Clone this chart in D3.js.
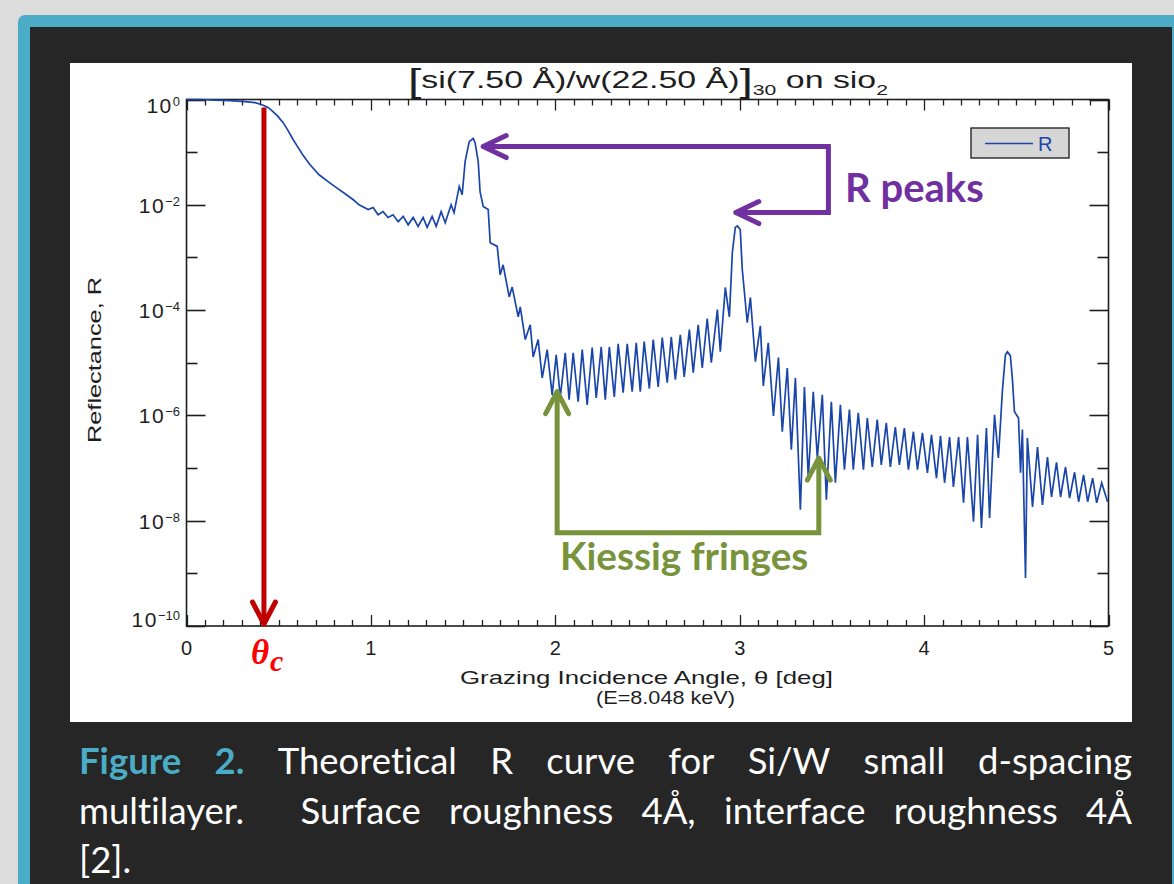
<!DOCTYPE html>
<html>
<head>
<meta charset="utf-8">
<script src="https://cdn.jsdelivr.net/npm/d3@7"></script>
<style>
  html, body { margin: 0; padding: 0; background: #dcdcdc; }
  svg { display: block; }
  .ax { font-family: "Liberation Sans", Arial, sans-serif; fill: #1e1e1e; }
  .cap { font-family: Lato, "Open Sans", sans-serif; font-size: 36.5px; fill: #ffffff;
         font-variant-ligatures: none; font-feature-settings: "liga" 0, "dlig" 0; }
  .cap.hl { fill: #4bacc6; font-weight: 700; }
  .note { font-family: Lato, "Open Sans", sans-serif; font-weight: 700; font-size: 40px;
          font-variant-ligatures: none; }
</style>
</head>
<body>
<svg id="fig" width="1174" height="884"></svg>
<script>
// Reflectance of a [Si/W]x30 multilayer on SiO2 at 8.048 keV
// grazing angle (deg) and log10 of reflectance, one entry per vertex
const angleDeg = [
  0.000,0.073,0.155,0.236,0.318,0.372,0.410,0.442,0.469,0.496,
  0.524,0.551,0.578,0.605,0.632,0.670,0.719,0.768,0.811,0.860,
  0.903,0.936,0.985,1.012,1.039,1.066,1.093,1.120,1.148,1.175,
  1.202,1.229,1.256,1.283,1.305,1.332,1.354,1.381,1.403,1.435,
  1.451,1.479,1.495,1.511,1.533,1.555,1.565,1.582,1.592,1.609,
  1.636,1.647,1.685,1.701,1.717,1.750,1.766,1.799,1.810,1.837,
  1.864,1.880,1.907,1.929,1.956,1.983,2.005,2.027,2.054,2.075,
  2.097,2.124,2.146,2.173,2.200,2.222,2.249,2.271,2.293,2.320,
  2.341,2.368,2.390,2.417,2.439,2.461,2.482,2.510,2.531,2.558,
  2.580,2.607,2.629,2.651,2.678,2.699,2.727,2.748,2.775,2.797,
  2.824,2.846,2.879,2.895,2.922,2.944,2.960,2.976,2.987,3.003,
  3.014,3.041,3.058,3.085,3.112,3.128,3.155,3.183,3.210,3.231,
  3.258,3.280,3.302,3.329,3.351,3.372,3.399,3.421,3.448,3.470,
  3.497,3.519,3.546,3.568,3.595,3.616,3.643,3.671,3.692,3.719,
  3.746,3.768,3.795,3.817,3.844,3.866,3.893,3.915,3.942,3.964,
  3.991,4.018,4.040,4.067,4.089,4.111,4.138,4.159,4.187,4.214,
  4.235,4.268,4.290,4.311,4.338,4.355,4.382,4.403,4.425,4.441,
  4.452,4.468,4.479,4.490,4.512,4.523,4.533,4.550,4.560,4.588,
  4.615,4.642,4.669,4.691,4.718,4.740,4.767,4.789,4.816,4.838,
  4.865,4.887,4.914,4.936,4.963,4.995
];
const log10R = [
  0.00,0.00,-0.01,-0.02,-0.04,-0.06,-0.10,-0.15,-0.23,-0.32,
  -0.44,-0.59,-0.76,-0.91,-1.06,-1.24,-1.43,-1.56,-1.67,-1.79,
  -1.90,-2.00,-2.09,-2.05,-2.19,-2.13,-2.24,-2.19,-2.32,-2.22,
  -2.38,-2.24,-2.41,-2.24,-2.43,-2.22,-2.41,-2.13,-2.34,-2.00,
  -2.15,-1.65,-1.81,-1.18,-0.80,-0.74,-0.82,-1.18,-1.75,-2.03,
  -2.09,-2.72,-2.79,-3.33,-3.14,-3.75,-3.56,-4.13,-3.94,-4.56,
  -4.28,-4.89,-4.56,-5.29,-4.75,-5.61,-4.85,-5.65,-4.81,-5.70,
  -4.81,-5.74,-4.75,-5.80,-4.71,-5.67,-4.70,-5.70,-4.70,-5.65,
  -4.64,-5.57,-4.64,-5.55,-4.62,-5.55,-4.60,-5.49,-4.56,-5.46,
  -4.52,-5.38,-4.51,-5.32,-4.47,-5.27,-4.37,-5.19,-4.28,-5.10,
  -4.16,-5.00,-3.99,-4.79,-3.57,-4.13,-2.91,-2.43,-2.40,-2.47,
  -3.23,-4.24,-3.76,-4.98,-4.30,-5.44,-4.62,-6.01,-4.90,-6.31,
  -5.10,-6.65,-5.29,-7.79,-5.46,-7.19,-5.55,-6.81,-5.61,-7.60,
  -5.74,-7.28,-5.80,-7.03,-5.89,-7.03,-5.95,-7.03,-6.05,-6.98,
  -6.08,-6.94,-6.14,-6.98,-6.22,-6.94,-6.24,-7.03,-6.31,-7.03,
  -6.33,-7.09,-6.37,-7.19,-6.39,-7.28,-6.41,-7.36,-6.41,-7.66,
  -6.41,-8.02,-6.37,-8.14,-6.24,-7.95,-5.99,-6.81,-5.51,-4.85,
  -4.79,-4.87,-5.32,-5.93,-6.05,-7.09,-6.27,-9.09,-6.43,-7.74,
  -6.60,-7.70,-6.79,-7.55,-6.89,-7.55,-6.98,-7.57,-7.08,-7.64,
  -7.13,-7.64,-7.19,-7.66,-7.28,-7.64
];

// axis ticks
const xMajorTicks = [0, 1, 2, 3, 4, 5];
const xTickLabels = ["0", "1", "2", "3", "4", "5"];
const xMinorStep = 0.1;
const yDecades = [0, -1, -2, -3, -4, -5, -6, -7, -8, -9, -10];
const yLabelDecades = [0, -2, -4, -6, -8, -10];

// annotation anchors (angle in deg, log10 R)
const criticalAngle = 0.42;
const criticalTop = -0.15;
const peakArrowUpper = [1.609, -0.894];
const peakArrowLower = [2.979, -2.148];
const peakBracketAngle = 3.481;
const fringeArrowLeft = [2.010, -5.55];
const fringeArrowRight = [3.429, -6.81];
const fringeBase = -8.23;

const svg = d3.select("#fig");

function draw() {
  // slide frame and caption panel
  svg.append("rect").attr("width", 1174).attr("height", 884).attr("fill", "#dcdcdc");
  svg.append("rect").attr("x", 18).attr("y", 15).attr("width", 1190).attr("height", 900)
    .attr("rx", 7).attr("fill", "#4aacc5");
  svg.append("rect").attr("x", 30).attr("y", 27).attr("width", 1142).attr("height", 880)
    .attr("fill", "#262626");
  svg.append("rect").attr("x", 70).attr("y", 63).attr("width", 1062).attr("height", 659)
    .attr("fill", "#ffffff");

  const x = d3.scaleLinear().domain([0, 5]).range([186.5, 1108.5]);
  const y = d3.scaleLog().domain([1e-10, 1]).range([626, 99.5]);
  const [x0, x1] = x.range();
  const [y0, y1] = y.range();
  const axisColor = "#1e1e1e";

  const plot = svg.append("g");

  // frame
  plot.append("rect").attr("x", x0).attr("y", y1).attr("width", x1 - x0).attr("height", y0 - y1)
    .attr("fill", "none").attr("stroke", axisColor).attr("stroke-width", 1.6);

  // x ticks, bottom and top
  const xTicks = d3.range(0, Math.round(5 / xMinorStep) + 1).map(i => +(i * xMinorStep).toFixed(2));
  xTicks.forEach(v => {
    const major = xMajorTicks.includes(v);
    const len = major ? 11 : 6;
    const px = Math.round(x(v)) + 0.5;
    plot.append("line").attr("x1", px).attr("x2", px).attr("y1", y0).attr("y2", y0 - len)
      .attr("stroke", axisColor).attr("stroke-width", 1.3);
    plot.append("line").attr("x1", px).attr("x2", px).attr("y1", y1).attr("y2", y1 + len)
      .attr("stroke", axisColor).attr("stroke-width", 1.3);
  });

  // y ticks, left and right
  yDecades.forEach(d => {
    const major = yLabelDecades.includes(d);
    const len = major ? 19 : 11;
    const py = Math.round(y(Math.pow(10, d))) + 0.5;
    plot.append("line").attr("x1", x0).attr("x2", x0 + len).attr("y1", py).attr("y2", py)
      .attr("stroke", axisColor).attr("stroke-width", 1.6);
    plot.append("line").attr("x1", x1).attr("x2", x1 - len).attr("y1", py).attr("y2", py)
      .attr("stroke", axisColor).attr("stroke-width", 1.6);
  });

  // x tick labels
  xMajorTicks.forEach((v, i) => {
    plot.append("text").attr("class", "ax").attr("x", x(v)).attr("y", 655)
      .attr("text-anchor", "middle").attr("font-size", 20).text(xTickLabels[i]);
  });

  // y tick labels: 10 with exponent
  yLabelDecades.forEach(d => {
    const ty = Math.min(Math.max(y(Math.pow(10, d)), 105), 619);
    const t = plot.append("text").attr("class", "ax").attr("x", 180).attr("y", ty + 8)
      .attr("text-anchor", "end").attr("font-size", 21);
    t.append("tspan").attr("letter-spacing", 1.5).text("10");
    t.append("tspan").attr("font-size", 13).attr("dy", -7)
      .text(d === 0 ? "0" : "\u2212" + Math.abs(d));
  });

  // axis titles
  plot.append("text").attr("class", "ax").attr("font-size", 19)
    .attr("transform", "translate(101,360) rotate(-90)").attr("text-anchor", "middle")
    .attr("textLength", 166).attr("lengthAdjust", "spacingAndGlyphs")
    .text("Reflectance, R");
  plot.append("text").attr("class", "ax").attr("font-size", 19)
    .attr("x", 646.5).attr("y", 684).attr("text-anchor", "middle")
    .attr("textLength", 373).attr("lengthAdjust", "spacingAndGlyphs")
    .text("Grazing Incidence Angle, \u03b8 [deg]");
  plot.append("text").attr("class", "ax").attr("font-size", 19)
    .attr("x", 665.5).attr("y", 704).attr("text-anchor", "middle")
    .attr("textLength", 139).attr("lengthAdjust", "spacingAndGlyphs")
    .text("(E=8.048 keV)");

  // chart title
  const title = plot.append("text").attr("class", "ax").attr("x", 648).attr("y", 88)
    .attr("text-anchor", "middle").attr("font-size", 24)
    .attr("textLength", 480).attr("lengthAdjust", "spacingAndGlyphs");
  title.append("tspan").attr("font-size", 34).attr("dy", 4).text("[");
  title.append("tspan").attr("dy", -4).text("si(7.50 \u00c5)/w(22.50 \u00c5)");
  title.append("tspan").attr("font-size", 34).attr("dy", 4).text("]");
  title.append("tspan").attr("font-size", 15).attr("dy", 3).text("30");
  title.append("tspan").attr("dy", -7).text(" on sio");
  title.append("tspan").attr("font-size", 15).attr("dy", 7).text("2");

  // reflectance curve
  const pts = d3.zip(angleDeg, log10R);
  const line = d3.line().x(d => x(d[0])).y(d => y(Math.pow(10, d[1])));
  plot.append("path").datum(pts).attr("d", line).attr("fill", "none")
    .attr("stroke", "#1a46aa").attr("stroke-width", 1.7).attr("stroke-linejoin", "miter");

  // legend
  plot.append("rect").attr("x", 971).attr("y", 128).attr("width", 98).attr("height", 30)
    .attr("fill", "#d6d6d6").attr("stroke", "#1a1a1a").attr("stroke-width", 1.3);
  plot.append("line").attr("x1", 985).attr("x2", 1033).attr("y1", 143.5).attr("y2", 143.5)
    .attr("stroke", "#1a46aa").attr("stroke-width", 1.6);
  plot.append("text").attr("class", "ax").attr("x", 1038).attr("y", 151)
    .attr("font-size", 20).style("fill", "#1a46aa").text("R");

  // critical angle marker
  const red = "#c00000";
  const cx = x(criticalAngle);
  const ann = svg.append("g").attr("fill", "none").attr("stroke-linecap", "round")
    .attr("stroke-linejoin", "round");
  ann.append("line").attr("x1", cx).attr("x2", cx).attr("y1", y(Math.pow(10, criticalTop)))
    .attr("y2", y0 - 3).attr("stroke", red).attr("stroke-width", 5).attr("stroke-linecap", "butt");
  ann.append("path").attr("d", `M${cx - 11.5},${y0 - 24} L${cx},${y0 - 2} L${cx + 11.5},${y0 - 24}`)
    .attr("stroke", red).attr("stroke-width", 5);
  const th = svg.append("text").attr("x", cx - 13).attr("y", 664)
    .style("font-family", "'Liberation Serif', 'DejaVu Serif', serif")
    .style("font-weight", "bold").style("font-style", "italic").style("fill", "#ff0000")
    .style("font-size", "35px");
  th.append("tspan").text("\u03b8");
  th.append("tspan").attr("dy", 7).attr("dx", 1).style("font-size", "30px").text("c");

  // Bragg peak arrows
  const purple = "#7030a0";
  const ux = x(peakArrowUpper[0]), uy = y(Math.pow(10, peakArrowUpper[1]));
  const lx = x(peakArrowLower[0]), ly = y(Math.pow(10, peakArrowLower[1]));
  const bx = x(peakBracketAngle);
  ann.append("path").attr("d", `M${ux + 2},${uy} H${bx} V${ly} H${lx + 2}`)
    .attr("stroke", purple).attr("stroke-width", 5).attr("stroke-linecap", "butt")
    .attr("stroke-linejoin", "miter");
  [[ux, uy], [lx, ly]].forEach(([ax, ay]) => {
    ann.append("path").attr("d", `M${ax + 23},${ay - 11} L${ax},${ay} L${ax + 23},${ay + 11}`)
      .attr("stroke", purple).attr("stroke-width", 5);
  });
  svg.append("text").attr("class", "note").attr("x", 845).attr("y", 202)
    .style("fill", purple).text("R peaks");

  // Kiessig fringe arrows
  const green = "#77933c";
  const gl = x(fringeArrowLeft[0]), gly = y(Math.pow(10, fringeArrowLeft[1]));
  const gr = x(fringeArrowRight[0]), gry = y(Math.pow(10, fringeArrowRight[1]));
  const gb = y(Math.pow(10, fringeBase));
  ann.append("path").attr("d", `M${gl},${gly + 2} V${gb} H${gr} V${gry + 2}`)
    .attr("stroke", green).attr("stroke-width", 5).attr("stroke-linecap", "butt")
    .attr("stroke-linejoin", "miter");
  [[gl, gly], [gr, gry]].forEach(([ax, ay]) => {
    ann.append("path").attr("d", `M${ax - 11.5},${ay + 22} L${ax},${ay} L${ax + 11.5},${ay + 22}`)
      .attr("stroke", green).attr("stroke-width", 5);
  });
  svg.append("text").attr("class", "note").attr("x", 560).attr("y", 570)
    .style("font-size", "38.7px").style("fill", green).text("Kiessig fringes");

  // caption, justified line by line
  const captionLines = [
    { y: 774, words: [
      { t: "Figure", hl: true }, { t: "2.", hl: true }, { t: "Theoretical" }, { t: "R" },
      { t: "curve" }, { t: "for" }, { t: "Si/W" }, { t: "small" }, { t: "d-spacing" }] },
    { y: 824, words: [
      { t: "multilayer." }, { t: "Surface", gap: 2 }, { t: "roughness" }, { t: "4\u00c5," },
      { t: "interface" }, { t: "roughness" }, { t: "4\u00c5" }] },
    { y: 873, last: true, words: [{ t: "[2]." }] }
  ];
  const capLeft = 79, capRight = 1132;
  captionLines.forEach(lineSpec => {
    const g = svg.append("g");
    const nodes = lineSpec.words.map(w => g.append("text")
      .attr("class", w.hl ? "cap hl" : "cap").attr("y", lineSpec.y).text(w.t));
    const widths = nodes.map(n => n.node().getComputedTextLength());
    const gaps = d3.sum(lineSpec.words.slice(1), w => w.gap || 1);
    const unit = lineSpec.last || gaps === 0 ? 8
      : (capRight - capLeft - d3.sum(widths)) / gaps;
    let cur = capLeft;
    nodes.forEach((n, i) => {
      if (i > 0) cur += unit * (lineSpec.words[i].gap || 1);
      n.attr("x", cur);
      cur += widths[i];
    });
  });
}

if (document.fonts && document.fonts.ready) {
  document.fonts.ready.then(draw);
} else {
  draw();
}
</script>
</body>
</html>
